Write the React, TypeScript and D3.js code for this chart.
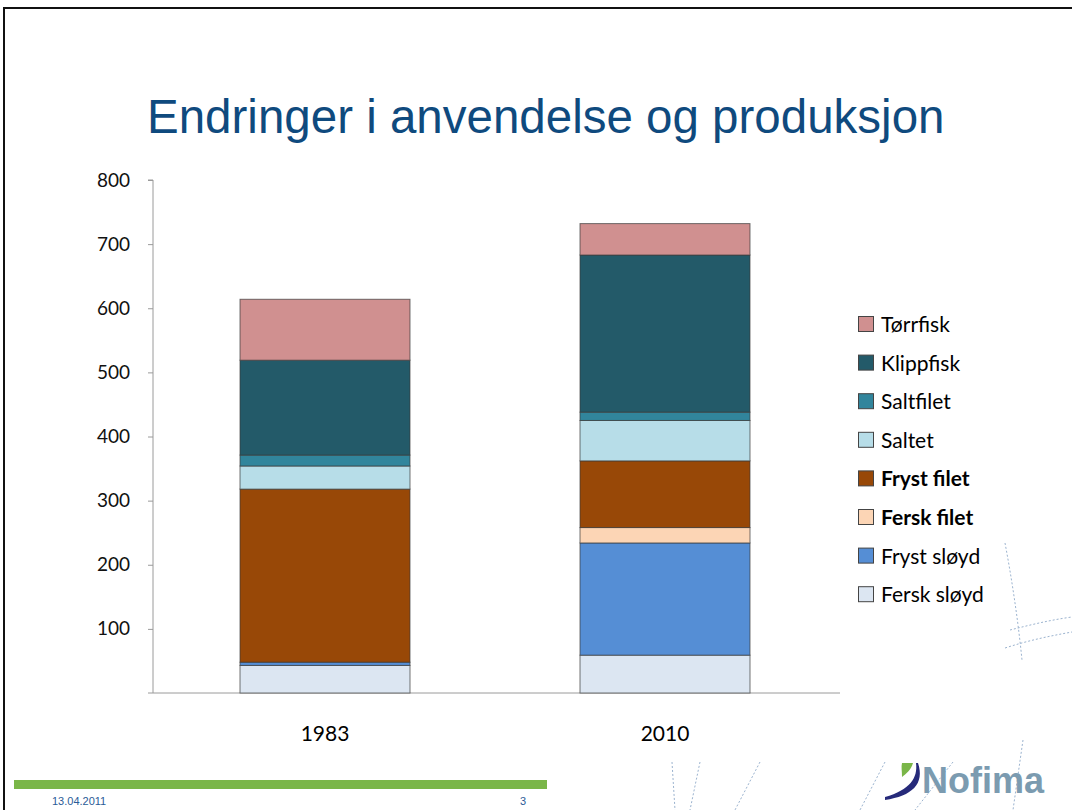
import { useRef, useEffect } from 'react';
import * as d3 from 'd3';

const YEARS = ['1983', '2010'];
const SERIES = ['Fersk sløyd', 'Fryst sløyd', 'Fersk filet', 'Fryst filet', 'Saltet', 'Saltfilet', 'Klippfisk', 'Tørrfisk'];
const COLORS = ['#dce6f2', '#558ed5', '#fcd5b5', '#984807', '#b7dde8', '#31859c', '#235a69', '#d09090'];
const BOLD_SERIES = ['Fryst filet', 'Fersk filet'];
// values per series, [1983, 2010]
const FERSK_SLOYD = [43, 59];
const FRYST_SLOYD = [5, 175];
const FERSK_FILET = [0, 24];
const FRYST_FILET = [270, 104];
const SALTET = [36, 63];
const SALTFILET = [17, 13];
const KLIPPFISK = [148, 245];
const TORRFISK = [95, 49];
const Y_TICKS = [100, 200, 300, 400, 500, 600, 700, 800];

const W = 1072;
const H = 810;

export default function App() {
  const svgRef = useRef<SVGSVGElement>(null);

  useEffect(() => {
    const svg = d3.select(svgRef.current);
    svg.selectAll('*').remove();

    const valuesBySeries = [FERSK_SLOYD, FRYST_SLOYD, FERSK_FILET, FRYST_FILET, SALTET, SALTFILET, KLIPPFISK, TORRFISK];
    const rows = YEARS.map((year, i) => {
      const r: any = { year };
      SERIES.forEach((s, j) => { r[s] = valuesBySeries[j][i]; });
      return r;
    });
    const stacked = d3.stack().keys(SERIES)(rows);

    // slide frame
    svg.append('rect').attr('width', W).attr('height', H).attr('fill', '#fff');
    svg.append('path')
      .attr('d', `M4,${H} L4,8 L${W},8`)
      .attr('fill', 'none').attr('stroke', '#111').attr('stroke-width', 2);

    // title
    svg.append('text')
      .attr('x', 147).attr('y', 133)
      .attr('font-family', '"Liberation Sans", Arial, sans-serif')
      .attr('font-size', 47.5)
      .attr('fill', '#0f4a7e')
      .text('Endringer i anvendelse og produksjon');

    // category slots; bars take half of each slot
    const x = d3.scaleBand().domain(YEARS).range([155, 835]).padding(0);
    const barW = x.bandwidth() * 0.5;
    const y = d3.scaleLinear().domain([0, 800]).range([693, 180]);

    const g = svg.append('g');

    // y axis
    const yAxis = g.append('g')
      .attr('transform', 'translate(153,0)')
      .call(d3.axisLeft(y).tickValues(Y_TICKS).tickSize(5).tickPadding(18).tickFormat(d3.format('d')));
    yAxis.select('.domain').attr('stroke', '#9a9a9a').attr('d', `M-5,${y(800)}H0V${y(0)}`);
    yAxis.selectAll('.tick line').attr('stroke', '#9a9a9a');
    yAxis.selectAll('.tick text')
      .attr('font-family', 'Lato, "Open Sans", sans-serif')
      .attr('font-size', 19)
      .attr('fill', '#111');

    // baseline
    g.append('line')
      .attr('x1', 148).attr('x2', 840)
      .attr('y1', y(0)).attr('y2', y(0))
      .attr('stroke', '#9a9a9a').attr('stroke-width', 1);

    // bars
    stacked.forEach((layer, j) => {
      g.append('g').selectAll('rect')
        .data(layer)
        .join('rect')
        .attr('x', (d: any) => x(d.data.year)! + (x.bandwidth() - barW) / 2)
        .attr('width', barW)
        .attr('y', (d) => y(d[1]))
        .attr('height', (d) => Math.max(0, y(d[0]) - y(d[1])))
        .attr('fill', COLORS[j])
        .attr('stroke', (d) => (d[1] - d[0] > 0 ? '#3a3a3a' : 'none'))
        .attr('stroke-opacity', 0.7)
        .attr('stroke-width', 1);
    });

    // x labels
    g.selectAll('.xl')
      .data(YEARS)
      .join('text')
      .attr('x', (d) => x(d)! + x.bandwidth() / 2)
      .attr('y', 741)
      .attr('text-anchor', 'middle')
      .attr('font-family', 'Lato, "Open Sans", sans-serif')
      .attr('font-size', 21)
      .attr('fill', '#000')
      .text((d) => d);

    // legend (top series first)
    const legend = svg.append('g').attr('transform', 'translate(858,325)');
    const order = SERIES.map((s, i) => i).reverse();
    order.forEach((idx, k) => {
      const row = legend.append('g').attr('transform', `translate(0,${k * 38.6})`);
      row.append('rect')
        .attr('x', 0.5).attr('y', -8.5).attr('width', 15).attr('height', 15)
        .attr('fill', COLORS[idx]).attr('stroke', '#444').attr('stroke-width', 1);
      row.append('text')
        .attr('x', 23).attr('y', 7)
        .attr('font-family', 'Lato, "Open Sans", sans-serif')
        .attr('font-size', 21)
        .attr('font-weight', BOLD_SERIES.includes(SERIES[idx]) ? 'bold' : 'normal')
        .attr('fill', '#000')
        .text(SERIES[idx]);
    });

    // decorative dashed lines
    const deco = svg.append('g').attr('fill', 'none').attr('stroke', '#9bb3cf').attr('stroke-width', 1).attr('stroke-dasharray', '2,2');
    [
      'M1005,543 C1012,580 1018,620 1022,660',
      'M1010,630 C1030,625 1050,620 1072,617',
      'M1005,648 C1030,640 1050,636 1072,632',
      'M672,762 L675,810',
      'M700,762 L690,810',
      'M760,762 L735,810',
      'M885,762 L860,810',
      'M953,762 L915,810',
      'M1023,740 L1013,810',
    ].forEach((p) => deco.append('path').attr('d', p));

    // footer
    svg.append('rect').attr('x', 14).attr('y', 780).attr('width', 533).attr('height', 9).attr('fill', '#7ab648');
    svg.append('text').attr('x', 52).attr('y', 805)
      .attr('font-family', '"Liberation Sans", Arial, sans-serif').attr('font-size', 11).attr('fill', '#2b5c97')
      .text('13.04.2011');
    svg.append('text').attr('x', 520).attr('y', 805)
      .attr('font-family', '"Liberation Sans", Arial, sans-serif').attr('font-size', 11).attr('fill', '#2b5c97')
      .text('3');

    // logo
    const logo = svg.append('g');
    logo.append('path')
      .attr('d', 'M916,763 C918,778 910,790 885,797 L885,800 C912,796 925,784 918,763 Z')
      .attr('fill', '#262a7a');
    logo.append('path')
      .attr('d', 'M902,763 L913,763 C911,770 906,774 902,777 C902,771 901,767 902,763 Z')
      .attr('fill', '#7ab648');
    logo.append('text')
      .attr('x', 922).attr('y', 793)
      .attr('font-family', '"Liberation Sans", Arial, sans-serif')
      .attr('font-size', 36).attr('font-weight', 'bold')
      .attr('fill', '#7b9bb0')
      .text('Nofima');
  }, []);

  return (
    <div style={{ position: 'fixed', left: 0, top: 0 }}>
      <svg ref={svgRef} width={W} height={H} style={{ display: 'block' }} />
    </div>
  );
}
